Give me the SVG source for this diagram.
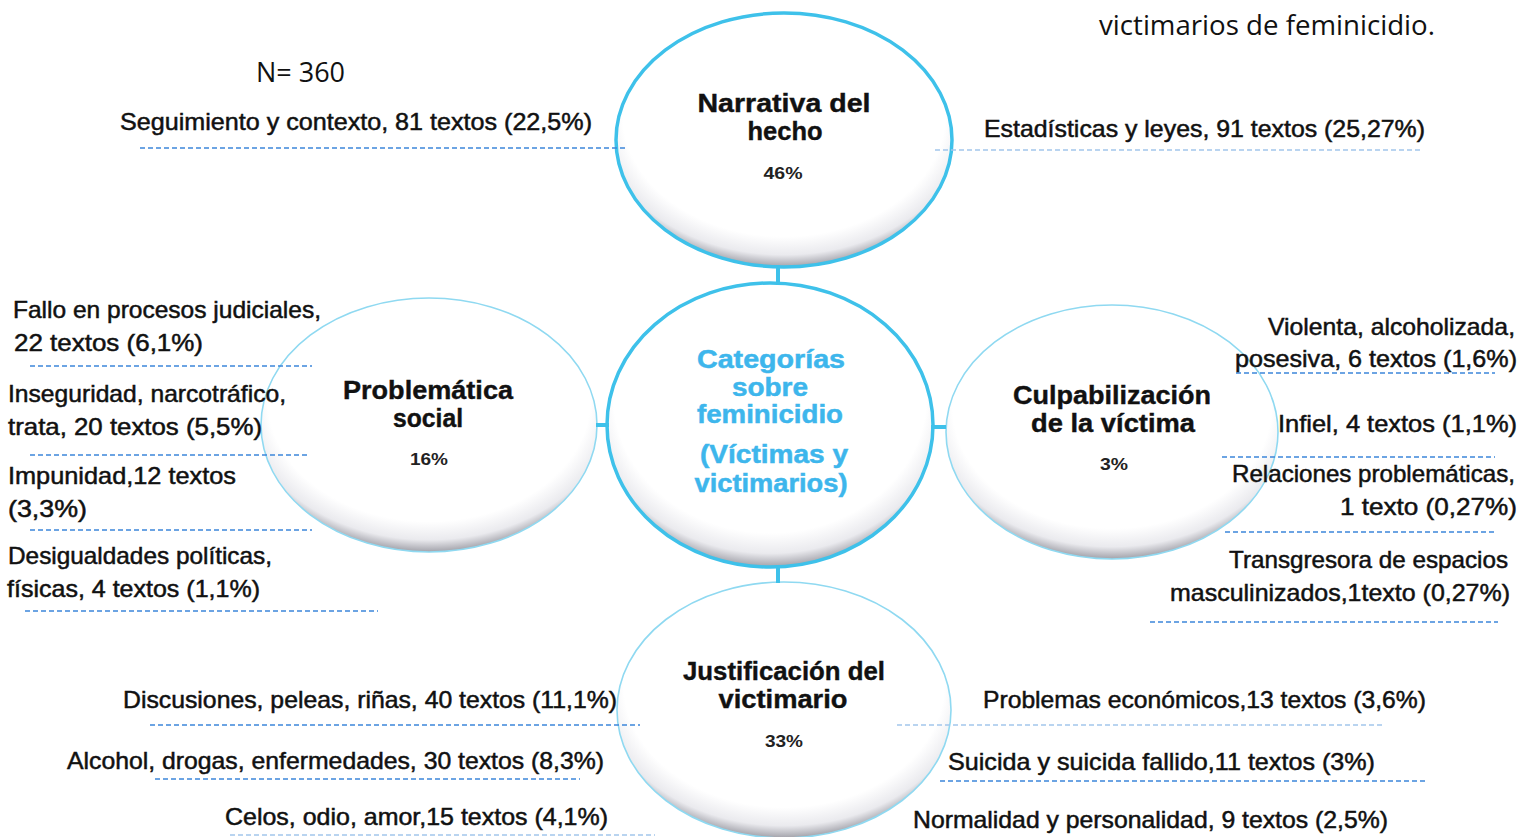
<svg xmlns="http://www.w3.org/2000/svg" width="1531" height="837" viewBox="0 0 1531 837">
<defs>
<radialGradient id="shade" cx="50%" cy="40%" r="60%">
<stop offset="0" stop-color="#ffffff"/>
<stop offset="0.8" stop-color="#ffffff"/>
<stop offset="0.92" stop-color="#eaeaee"/>
<stop offset="1" stop-color="#a2a2aa"/>
</radialGradient>
<style>
.bg{fill:#ffffff}
.thick{fill:url(#shade);stroke:#3ec1ea;stroke-width:3.5}
.thin{fill:url(#shade);stroke:#8fd9f1;stroke-width:1.6}
.conn{stroke:#3ec1ea;stroke-width:4;fill:none}
.dash{stroke:#3d86da;stroke-width:1.5;stroke-dasharray:5 3;fill:none}
.dashl{stroke:#a3c6ec;stroke-width:1.5;stroke-dasharray:5 3;fill:none}
.lbl{font-family:"Liberation Sans",Arial,sans-serif;font-size:24px;fill:#111;stroke:#111;stroke-width:0.5}
.ttl{font-family:"Liberation Sans",Arial,sans-serif;font-size:26px;font-weight:bold;fill:#111;text-anchor:middle;stroke:#111;stroke-width:0.4}
.pct{font-family:"Liberation Sans",Arial,sans-serif;font-size:16px;font-weight:bold;fill:#222;text-anchor:middle}
.ctr{font-family:"Liberation Sans",Arial,sans-serif;font-size:26px;font-weight:bold;fill:#3db6ec;text-anchor:middle;stroke:#3db6ec;stroke-width:0.5}
.cap{font-family:"Open Sans","Liberation Sans",sans-serif;font-size:27px;fill:#111}
</style>
</defs>
<rect class="bg" x="0" y="0" width="1531" height="837"/>

<g id="captions">
<text class="cap" x="1099" y="35" textLength="336" lengthAdjust="spacingAndGlyphs">victimarios de feminicidio.</text>
<text class="cap" x="256" y="82" textLength="89" lengthAdjust="spacingAndGlyphs">N= 360</text>
</g>

<g id="narrativa">
<ellipse class="thick" cx="784" cy="140" rx="168" ry="127"/>
<text class="ttl" x="784" y="112" textLength="173" lengthAdjust="spacingAndGlyphs">Narrativa del</text>
<text class="ttl" x="785" y="140" textLength="75" lengthAdjust="spacingAndGlyphs">hecho</text>
<text class="pct" x="783" y="179" textLength="39" lengthAdjust="spacingAndGlyphs">46%</text>
</g>

<g id="categorias">
<ellipse class="thick" cx="770" cy="425" rx="163" ry="142"/>
<text class="ctr" x="771" y="368" textLength="148" lengthAdjust="spacingAndGlyphs">Categorías</text>
<text class="ctr" x="770" y="396" textLength="76" lengthAdjust="spacingAndGlyphs">sobre</text>
<text class="ctr" x="770" y="423" textLength="146" lengthAdjust="spacingAndGlyphs">feminicidio</text>
<text class="ctr" x="774" y="463" textLength="148" lengthAdjust="spacingAndGlyphs">(Víctimas y</text>
<text class="ctr" x="771" y="492" textLength="153" lengthAdjust="spacingAndGlyphs">victimarios)</text>
</g>

<g id="problematica">
<ellipse class="thin" cx="429" cy="425" rx="168" ry="127"/>
<text class="ttl" x="428" y="399" textLength="170" lengthAdjust="spacingAndGlyphs">Problemática</text>
<text class="ttl" x="428" y="427" textLength="70" lengthAdjust="spacingAndGlyphs">social</text>
<text class="pct" x="429" y="465" textLength="38" lengthAdjust="spacingAndGlyphs">16%</text>
</g>

<g id="culpabilizacion">
<ellipse class="thin" cx="1112" cy="432" rx="166" ry="127"/>
<text class="ttl" x="1112" y="404" textLength="198" lengthAdjust="spacingAndGlyphs">Culpabilización</text>
<text class="ttl" x="1113" y="432" textLength="164" lengthAdjust="spacingAndGlyphs">de la víctima</text>
<text class="pct" x="1114" y="470" textLength="28" lengthAdjust="spacingAndGlyphs">3%</text>
</g>

<g id="justificacion">
<ellipse class="thin" cx="784" cy="710" rx="167" ry="128"/>
<text class="ttl" x="784" y="680" textLength="202" lengthAdjust="spacingAndGlyphs">Justificación del</text>
<text class="ttl" x="783" y="708" textLength="129" lengthAdjust="spacingAndGlyphs">victimario</text>
<text class="pct" x="784" y="747" textLength="38" lengthAdjust="spacingAndGlyphs">33%</text>
</g>

<g id="connectors">
<line class="conn" x1="778" y1="265" x2="778" y2="285"/>
<line class="conn" x1="778" y1="566" x2="778" y2="583"/>
<line class="conn" x1="596" y1="425" x2="609" y2="425"/>
<line class="conn" x1="931" y1="427" x2="946" y2="427"/>
<line class="dash" x1="140" y1="148" x2="628" y2="148"/>
<line class="dashl" x1="935" y1="150" x2="1423" y2="150"/>
<line class="dash" x1="30" y1="366" x2="312" y2="366"/>
<line class="dash" x1="30" y1="455" x2="310" y2="455"/>
<line class="dash" x1="30" y1="530" x2="312" y2="530"/>
<line class="dash" x1="25" y1="611" x2="378" y2="611"/>
<line class="dash" x1="1236" y1="373" x2="1495" y2="373"/>
<line class="dash" x1="1222" y1="457" x2="1495" y2="457"/>
<line class="dash" x1="1225" y1="532" x2="1495" y2="532"/>
<line class="dash" x1="1150" y1="622" x2="1498" y2="622"/>
<line class="dash" x1="150" y1="725" x2="640" y2="725"/>
<line class="dash" x1="155" y1="779" x2="580" y2="779"/>
<line class="dashl" x1="230" y1="835" x2="655" y2="835"/>
<line class="dashl" x1="897" y1="725" x2="1382" y2="725"/>
<line class="dash" x1="940" y1="781" x2="1425" y2="781"/>
</g>

<g id="labels">
<text class="lbl" x="120" y="130" textLength="472" lengthAdjust="spacingAndGlyphs">Seguimiento y contexto, 81 textos (22,5%)</text>
<text class="lbl" x="984" y="137" textLength="441" lengthAdjust="spacingAndGlyphs">Estadísticas y leyes, 91 textos (25,27%)</text>
<text class="lbl" x="13" y="318" textLength="308" lengthAdjust="spacingAndGlyphs">Fallo en procesos judiciales,</text>
<text class="lbl" x="14" y="351" textLength="189" lengthAdjust="spacingAndGlyphs">22 textos (6,1%)</text>
<text class="lbl" x="8" y="402" textLength="278" lengthAdjust="spacingAndGlyphs">Inseguridad, narcotráfico,</text>
<text class="lbl" x="8" y="435" textLength="254" lengthAdjust="spacingAndGlyphs">trata, 20 textos (5,5%)</text>
<text class="lbl" x="8" y="484" textLength="228" lengthAdjust="spacingAndGlyphs">Impunidad,12 textos</text>
<text class="lbl" x="8" y="517" textLength="79" lengthAdjust="spacingAndGlyphs">(3,3%)</text>
<text class="lbl" x="8" y="564" textLength="264" lengthAdjust="spacingAndGlyphs">Desigualdades políticas,</text>
<text class="lbl" x="7" y="597" textLength="253" lengthAdjust="spacingAndGlyphs">físicas, 4 textos (1,1%)</text>
<text class="lbl" x="1268" y="335" textLength="247" lengthAdjust="spacingAndGlyphs">Violenta, alcoholizada,</text>
<text class="lbl" x="1235" y="367" textLength="282" lengthAdjust="spacingAndGlyphs">posesiva, 6 textos (1,6%)</text>
<text class="lbl" x="1278" y="432" textLength="239" lengthAdjust="spacingAndGlyphs">Infiel, 4 textos (1,1%)</text>
<text class="lbl" x="1232" y="482" textLength="283" lengthAdjust="spacingAndGlyphs">Relaciones problemáticas,</text>
<text class="lbl" x="1340" y="515" textLength="177" lengthAdjust="spacingAndGlyphs">1 texto (0,27%)</text>
<text class="lbl" x="1229" y="568" textLength="279" lengthAdjust="spacingAndGlyphs">Transgresora de espacios</text>
<text class="lbl" x="1170" y="601" textLength="340" lengthAdjust="spacingAndGlyphs">masculinizados,1texto (0,27%)</text>
<text class="lbl" x="123" y="708" textLength="494" lengthAdjust="spacingAndGlyphs">Discusiones, peleas, riñas, 40 textos (11,1%)</text>
<text class="lbl" x="67" y="769" textLength="537" lengthAdjust="spacingAndGlyphs">Alcohol, drogas, enfermedades, 30 textos (8,3%)</text>
<text class="lbl" x="225" y="825" textLength="383" lengthAdjust="spacingAndGlyphs">Celos, odio, amor,15 textos (4,1%)</text>
<text class="lbl" x="983" y="708" textLength="443" lengthAdjust="spacingAndGlyphs">Problemas económicos,13 textos (3,6%)</text>
<text class="lbl" x="948" y="770" textLength="427" lengthAdjust="spacingAndGlyphs">Suicida y suicida fallido,11 textos (3%)</text>
<text class="lbl" x="913" y="828" textLength="475" lengthAdjust="spacingAndGlyphs">Normalidad y personalidad, 9 textos (2,5%)</text>
</g>
</svg>
